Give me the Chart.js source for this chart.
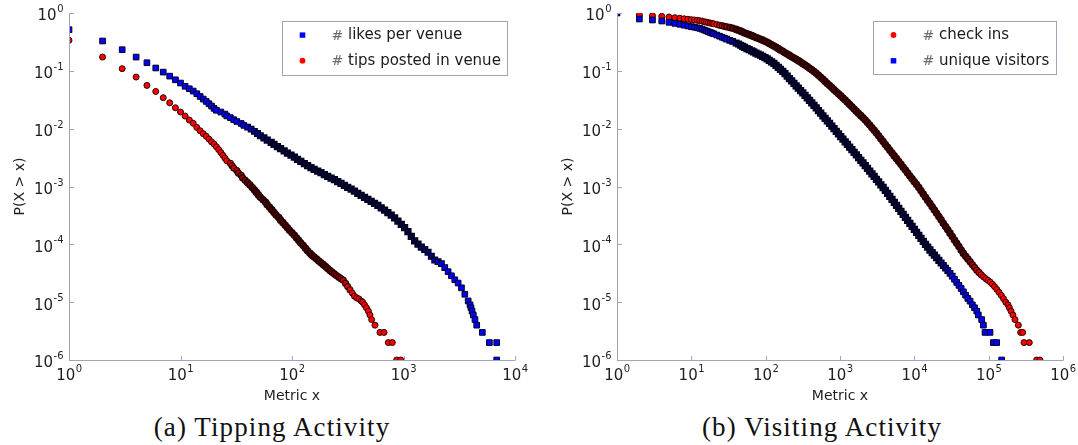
<!DOCTYPE html>
<html>
<head>
<meta charset="utf-8">
<script src="https://cdn.jsdelivr.net/npm/chart.js@4.4.0/dist/chart.umd.min.js"></script>
<style>
  body { margin: 0; background: #fff; }
  #page { position: relative; width: 1078px; height: 445px; overflow: hidden; background: #fff; }
  canvas { position: absolute; top: 0; }
  #chartA { left: 0; }
  #chartB { left: 540px; }
  .caption {
    position: absolute; top: 412px; transform: translateX(-50%);
    font-family: "Liberation Serif", serif; font-size: 27px; letter-spacing: 1.1px;
    color: #111; white-space: nowrap; line-height: 30px;
  }
</style>
</head>
<body>
<div id="page">
  <canvas id="chartA" width="540" height="410"></canvas>
  <canvas id="chartB" width="538" height="410"></canvas>
  <div class="caption" style="left:272px">(a) Tipping Activity</div>
  <div class="caption" style="left:822px">(b) Visiting Activity</div>
</div>
<script>
// ---- data: [metric value x, P(X > x)] ----
var likesPerVenue = [
  [1,0.514],[2,0.328],[3,0.232],[4,0.173],[5,0.138],[6,0.112],[7,0.095],[8,0.081],[9,0.07],[10,0.0615],
  [11,0.054],[12,0.049],[13,0.0447],[14,0.0402],[15,0.036],[16,0.0325],[17,0.0296],[18,0.027],[19,0.0246],[20,0.0224],
  [21,0.0208],[23,0.0194],[25,0.0179],[26,0.0166],[28,0.0155],[30,0.0143],[32,0.0133],[35,0.0123],[37,0.0114],[40,0.0106],
  [43,0.0098],[46,0.00899],[49,0.00824],[52,0.00755],[56,0.00693],[60,0.00635],[65,0.00582],[69,0.00534],[74,0.0049],[79,0.0045],
  [85,0.00412],[91,0.00379],[98,0.00349],[105,0.00321],[112,0.00295],[120,0.00271],[129,0.00249],[138,0.00229],[148,0.00211],[158,0.00198],
  [170,0.00185],[182,0.00173],[195,0.00161],[209,0.0015],[224,0.0014],[240,0.00131],[257,0.00122],[275,0.00113],[295,0.00105],[316,0.00097],
  [339,0.000899],[363,0.00083],[389,0.000764],[417,0.000705],[447,0.000649],[479,0.000598],[513,0.000552],[550,0.000509],[589,0.00047],[631,0.000429],
  [676,0.00039],[724,0.000354],[776,0.000321],[832,0.000286],[891,0.000251],[955,0.000221],[1023,0.000194],[1096,0.000166],[1175,0.000137],[1259,0.000115],
  [1349,0.000101],[1445,8.97e-5],[1549,8.15e-5],[1660,7.29e-5],[1778,6.21e-5],[1905,5.36e-5],[2042,5.02e-5],[2188,4.64e-5],[2344,3.95e-5],[2512,3.37e-5],
  [2692,2.86e-5],[2884,2.44e-5],[3090,2.14e-5],[3311,1.77e-5],[3548,1.37e-5],[3802,1.05e-5],[3950,9e-6],[4030,8e-6],[4120,7e-6],[4227,6e-6],
  [4375,5e-6],[4536,4e-6],[5093,3e-6],[5889,2e-6],[6855,2e-6],[6855,1e-6]
];
var tipsPerVenue = [
  [1,0.337],[2,0.173],[3,0.109],[4,0.078],[5,0.056],[6,0.044],[7,0.0343],[8,0.028],[9,0.023],[10,0.0194],
  [11,0.0165],[12,0.0141],[13,0.0124],[14,0.0105],[15,0.0092],[16,0.0082],[17,0.0074],[18,0.0066],[19,0.0059],[20,0.0054],
  [21,0.00485],[22,0.00434],[23,0.00387],[24,0.00347],[25,0.0031],[26,0.00278],[28,0.00252],[29,0.00229],[30,0.00208],[32,0.00189],
  [33,0.00171],[35,0.00156],[36,0.00141],[38,0.00128],[40,0.00116],[42,0.00106],[44,0.000959],[46,0.000871],[48,0.000791],[50,0.000716],
  [52,0.00065],[55,0.00059],[58,0.000534],[60,0.000482],[63,0.000436],[66,0.000394],[69,0.000356],[72,0.000321],[76,0.00029],[79,0.000262],
  [83,0.000237],[87,0.000214],[91,0.000193],[95,0.000175],[100,0.000158],[105,0.000143],[110,0.000129],[115,0.000116],[120,0.000105],[126,9.51e-5],
  [132,8.58e-5],[138,7.75e-5],[145,7.0e-5],[151,6.49e-5],[158,6.01e-5],[166,5.57e-5],[174,5.16e-5],[182,4.8e-5],[191,4.45e-5],[200,4.12e-5],
  [209,3.82e-5],[219,3.54e-5],[229,3.28e-5],[240,3.07e-5],[251,2.88e-5],[263,2.71e-5],[275,2.55e-5],[288,2.4e-5],[302,2.11e-5],[316,1.86e-5],
  [331,1.64e-5],[347,1.44e-5],[363,1.27e-5],[380,1.19e-5],[398,1.14e-5],[417,1.05e-5],[430,1e-5],[447,9e-6],[465,8e-6],[484,7e-6],
  [500,6e-6],[518,5e-6],[555,4e-6],[615,3e-6],[669,3e-6],[731,2e-6],[794,2e-6],[869,1e-6],[944,1e-6]
];
var checkIns = [
  [1,1.0],[2,0.923],[3,0.898],[4,0.875],[5,0.853],[6,0.83],[7,0.811],[8,0.794],[9,0.78],[10,0.767],
  [11,0.757],[12,0.746],[13,0.736],[14,0.721],[15,0.706],[16,0.693],[17,0.681],[18,0.67],[19,0.659],[20,0.65],
  [22,0.632],[24,0.615],[26,0.601],[28,0.589],[30,0.577],[33,0.561],[36,0.547],[40,0.52],[43,0.504],[46,0.485],
  [49,0.469],[52,0.452],[56,0.437],[60,0.422],[65,0.406],[69,0.393],[74,0.378],[79,0.366],[85,0.352],[91,0.339],
  [98,0.325],[105,0.311],[112,0.297],[120,0.283],[129,0.269],[138,0.255],[148,0.242],[158,0.229],[170,0.217],[182,0.206],
  [195,0.195],[209,0.185],[224,0.175],[240,0.166],[257,0.158],[275,0.15],[295,0.142],[316,0.133],[339,0.126],[363,0.119],
  [389,0.111],[417,0.1045],[447,0.0975],[479,0.0906],[513,0.0837],[550,0.0773],[589,0.0713],[631,0.0656],[676,0.0604],[724,0.0557],
  [776,0.0513],[832,0.0472],[891,0.0436],[955,0.0401],[1023,0.037],[1096,0.034],[1175,0.0312],[1259,0.0286],[1349,0.0261],[1445,0.0239],
  [1549,0.0219],[1660,0.02],[1778,0.0183],[1905,0.0168],[2042,0.0154],[2188,0.0141],[2344,0.0128],[2512,0.0116],[2692,0.0104],[2884,0.0094],
  [3090,0.00841],[3311,0.00752],[3548,0.0067],[3802,0.00597],[4074,0.00533],[4365,0.00475],[4677,0.00424],[5012,0.00378],[5370,0.00338],[5754,0.00303],
  [6166,0.00271],[6607,0.00242],[7079,0.00215],[7586,0.00192],[8128,0.00171],[8710,0.00152],[9333,0.00136],[10000,0.00121],[10715,0.00108],[11482,0.000958],
  [12303,0.000843],[13183,0.000742],[14125,0.000653],[15136,0.000574],[16218,0.000506],[17378,0.000445],[18621,0.000392],[19953,0.000344],[21380,0.000303],[22909,0.000265],
  [24547,0.000232],[26303,0.000203],[28184,0.000178],[30200,0.000156],[32359,0.000136],[34674,0.000119],[37154,0.000104],[39811,9.14e-5],[42658,7.98e-5],[45709,6.97e-5],
  [48978,6.24e-5],[52481,5.58e-5],[56234,4.99e-5],[60256,4.47e-5],[64565,4.0e-5],[69183,3.58e-5],[74131,3.27e-5],[79433,2.99e-5],[85114,2.74e-5],[91201,2.55e-5],
  [97724,2.39e-5],[104713,2.23e-5],[112202,2.04e-5],[120226,1.85e-5],[128825,1.66e-5],[138038,1.48e-5],[147911,1.31e-5],[158489,1.15e-5],[169824,1.0e-5],[182000,9e-6],
  [190000,8e-6],[200000,7e-6],[212000,6e-6],[226000,5e-6],[251000,4e-6],[269000,3e-6],[287000,3e-6],[299000,2e-6],[352000,2e-6],[443000,1e-6],
  [490000,1e-6]
];
var uniqueVisitors = [
  [1,1.0],[2,0.787],[3,0.757],[4,0.727],[5,0.69],[6,0.662],[7,0.637],[8,0.615],[9,0.597],[10,0.581],
  [11,0.568],[12,0.555],[13,0.543],[14,0.525],[15,0.506],[16,0.49],[17,0.474],[18,0.461],[19,0.448],[20,0.437],
  [22,0.416],[24,0.397],[26,0.381],[28,0.367],[30,0.354],[33,0.337],[36,0.323],[40,0.302],[43,0.29],[46,0.277],
  [49,0.265],[52,0.254],[56,0.243],[60,0.232],[65,0.222],[69,0.213],[74,0.203],[79,0.195],[85,0.186],[91,0.178],
  [98,0.17],[105,0.161],[112,0.152],[120,0.143],[129,0.134],[138,0.124],[148,0.115],[158,0.106],[170,0.0977],[182,0.0891],
  [195,0.0809],[209,0.0736],[224,0.0668],[240,0.0608],[257,0.0552],[275,0.0501],[295,0.0456],[316,0.0414],[339,0.0376],[363,0.0342],
  [389,0.0309],[417,0.0279],[447,0.0252],[479,0.0228],[513,0.0205],[550,0.0185],[589,0.0167],[631,0.0151],[676,0.0136],[724,0.0123],
  [776,0.0111],[832,0.01],[891,0.00901],[955,0.00811],[1023,0.00731],[1096,0.00658],[1175,0.00593],[1259,0.00534],[1349,0.00481],[1445,0.00433],
  [1549,0.0039],[1660,0.00351],[1778,0.00316],[1905,0.00284],[2042,0.00255],[2188,0.00229],[2344,0.00205],[2512,0.00184],[2692,0.00166],[2884,0.00149],
  [3090,0.00133],[3311,0.0012],[3548,0.00107],[3802,0.000961],[4074,0.000853],[4365,0.000757],[4677,0.000673],[5012,0.000597],[5370,0.00053],[5754,0.00047],
  [6166,0.000418],[6607,0.000371],[7079,0.000329],[7586,0.000292],[8128,0.000259],[8710,0.00023],[9333,0.000204],[10000,0.000182],[10715,0.000161],[11482,0.000143],
  [12303,0.000127],[13183,0.000113],[14125,0.0001],[15136,8.93e-5],[16218,7.98e-5],[17378,7.19e-5],[18621,6.49e-5],[19953,5.86e-5],[21380,5.28e-5],[22909,4.77e-5],
  [24547,4.3e-5],[26303,3.88e-5],[28184,3.51e-5],[30200,3.16e-5],[32359,2.81e-5],[34674,2.49e-5],[37154,2.2e-5],[39811,1.95e-5],[42658,1.72e-5],[45709,1.51e-5],
  [48978,1.32e-5],[52481,1.16e-5],[56234,1.04e-5],[60256,9e-6],[64565,8e-6],[69183,7e-6],[72600,6e-6],[80500,5e-6],[84900,4e-6],[89300,3e-6],
  [104300,3e-6],[115600,2e-6],[128200,2e-6],[149600,1e-6]
];

// decade ticks
var xTicksA = [1, 10, 100, 1000, 10000];
var xTicksB = [1, 10, 100, 1000, 10000, 100000, 1000000];
var yTicks = [1, 0.1, 0.01, 0.001, 0.0001, 0.00001, 0.000001];

var BLUE = [0, 0, 255], BLUE_DARK = [6, 6, 52], BLUE_EDGE = '#000022';
var RED = [255, 0, 0], RED_DARK = [66, 4, 4], RED_EDGE = '#2a0000';
var AXIS_COLOR = '#9ba7b9';
var FONT = '"DejaVu Sans", sans-serif';

function toPoints(arr) {
  return arr.map(function(p) { return { x: p[0], y: p[1] }; });
}

function rgb(c) { return 'rgb(' + c.join(',') + ')'; }
function mix(c1, c2, t) {
  return rgb(c1.map(function(v, i) { return Math.round(v + (c2[i] - v) * t); }));
}

// where a curve is crowded the overlapping marker edges merge into a dark band;
// ramp the darkness in and out over a quarter decade at each end
function crowding(x, range) {
  var lx = Math.log10(x), a = Math.log10(range[0]), b = Math.log10(range[1]), w = 0.25;
  var t = Math.min((lx - a) / w + 0.5, (b - lx) / w + 0.5, 1);
  return Math.max(0, t);
}

// "10" with a raised exponent
function powerLabel(ctx, value, anchorX, midY, centered) {
  var base = '10', sup = String(Math.round(Math.log10(value)));
  ctx.font = '15px ' + FONT;
  var wb = ctx.measureText(base).width;
  ctx.font = '10px ' + FONT;
  var ws = ctx.measureText(sup).width;
  var left = centered ? anchorX - (wb + ws) / 2 : anchorX - (wb + ws);
  ctx.textAlign = 'left';
  ctx.textBaseline = 'middle';
  ctx.font = '15px ' + FONT;
  ctx.fillText(base, left, midY);
  ctx.font = '10px ' + FONT;
  ctx.fillText(sup, left + wb + 0.5, midY - 7);
}

// axes with inward ticks, tick labels, axis titles and the boxed legend
var logAxes = {
  id: 'logAxes',
  afterDatasetsDraw: function(chart, args, opts) {
    var ctx = chart.ctx, a = chart.chartArea;
    var xs = chart.scales.x, ys = chart.scales.y;
    ctx.save();
    ctx.strokeStyle = AXIS_COLOR;
    ctx.lineWidth = 1;
    ctx.beginPath();
    ctx.moveTo(a.left + 0.5, a.top);
    ctx.lineTo(a.left + 0.5, a.bottom + 0.5);
    ctx.lineTo(a.right + 0.5, a.bottom + 0.5);
    opts.xTicks.forEach(function(v) {
      var px = Math.round(xs.getPixelForValue(v)) + 0.5;
      ctx.moveTo(px, a.bottom);
      ctx.lineTo(px, a.bottom - 4);
    });
    yTicks.forEach(function(v) {
      var py = Math.round(ys.getPixelForValue(v)) + 0.5;
      ctx.moveTo(a.left, py);
      ctx.lineTo(a.left + 5, py);
    });
    ctx.stroke();

    ctx.fillStyle = '#1e1e1e';
    opts.xTicks.forEach(function(v) {
      powerLabel(ctx, v, xs.getPixelForValue(v), a.bottom + 16, true);
    });
    yTicks.forEach(function(v) {
      powerLabel(ctx, v, a.left - 6, ys.getPixelForValue(v) + 3.5, false);
    });

    ctx.font = '14px ' + FONT;
    ctx.textAlign = 'center';
    ctx.textBaseline = 'middle';
    ctx.fillText('Metric x', (a.left + a.right) / 2, 396);
    ctx.save();
    ctx.translate(a.left - 49, (a.top + a.bottom) / 2);
    ctx.rotate(-Math.PI / 2);
    ctx.fillText('P(X > x)', 0, 0);
    ctx.restore();

    // legend
    var lg = opts.legend;
    ctx.fillStyle = '#fff';
    ctx.fillRect(lg.x, lg.y, lg.w, lg.h);
    ctx.strokeStyle = AXIS_COLOR;
    ctx.strokeRect(lg.x + 0.5, lg.y + 0.5, lg.w, lg.h);
    lg.items.forEach(function(it, i) {
      var cy = lg.y + 14 + i * 25.7;
      var mx = lg.x + 20.5;
      ctx.fillStyle = rgb(it.color);
      if (it.style === 'rect') {
        ctx.fillRect(mx - 2.8, cy - 2.6, 5.6, 5.4);
      } else {
        ctx.beginPath();
        ctx.arc(mx, cy, 2.9, 0, Math.PI * 2);
        ctx.fill();
      }
      ctx.textAlign = 'left';
      ctx.textBaseline = 'middle';
      ctx.font = '14px ' + FONT;
      ctx.fillStyle = '#6a6a6a';
      ctx.fillText('#', mx + 29, cy + 1);
      ctx.font = '15px ' + FONT;
      ctx.fillStyle = '#1a1a1a';
      ctx.fillText(it.label, mx + 45.5, cy);
    });
    ctx.restore();
  }
};

function markerSet(label, data, order, style, base, dark, edge, crowded) {
  return {
    label: label, data: toPoints(data), order: order,
    pointStyle: style, pointRadius: style === 'rect' ? 4 : 3,
    pointBackgroundColor: function(c) { return mix(base, dark, crowding(c.raw.x, crowded)); },
    pointBorderWidth: function(c) { return 1 + 0.6 * crowding(c.raw.x, crowded); },
    pointBorderColor: edge,
    clip: 0
  };
}

function buildChart(id, datasets, xMax, yWidth, padRight, xTicks, legend) {
  return new Chart(document.getElementById(id), {
    type: 'scatter',
    data: { datasets: datasets },
    options: {
      responsive: false,
      animation: false,
      events: [],
      layout: { padding: { top: 13, right: padRight, bottom: 0, left: 0 } },
      scales: {
        x: {
          type: 'logarithmic', min: 1, max: xMax,
          afterFit: function(s) { s.height = 50; },
          ticks: { display: false }, grid: { display: false }, border: { display: false }
        },
        y: {
          type: 'logarithmic', min: 1e-6, max: 1,
          afterFit: function(s) { s.width = yWidth; },
          ticks: { display: false }, grid: { display: false }, border: { display: false }
        }
      },
      plugins: {
        legend: { display: false },
        tooltip: { enabled: false },
        logAxes: { xTicks: xTicks, legend: legend }
      }
    },
    plugins: [logAxes]
  });
}

buildChart('chartA', [
    markerSet('# likes per venue', likesPerVenue, 0, 'rect', BLUE, BLUE_DARK, BLUE_EDGE, [50, 1800]),
    markerSet('# tips posted in venue', tipsPerVenue, 1, 'circle', RED, RED_DARK, RED_EDGE, [35, 260])
  ],
  1e4, 69, 25, xTicksA,
  { x: 282, y: 21, w: 225, h: 54, items: [
    { label: 'likes per venue', style: 'rect', color: BLUE },
    { label: 'tips posted in venue', style: 'circle', color: RED }
  ] });

buildChart('chartB', [
    markerSet('# unique visitors', uniqueVisitors, 0, 'rect', BLUE, BLUE_DARK, BLUE_EDGE, [40, 25000]),
    markerSet('# check ins', checkIns, 1, 'circle', RED, RED_DARK, RED_EDGE, [30, 60000])
  ],
  1e6, 77, 15, xTicksB,
  { x: 333, y: 21, w: 183, h: 53, items: [
    { label: 'check ins', style: 'circle', color: RED },
    { label: 'unique visitors', style: 'rect', color: BLUE }
  ] });
</script>
</body>
</html>
